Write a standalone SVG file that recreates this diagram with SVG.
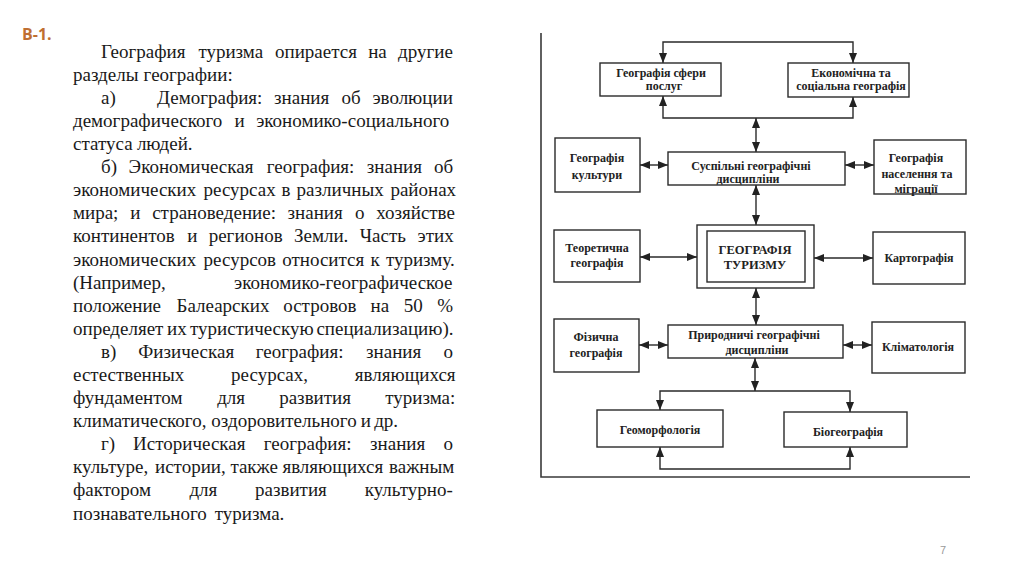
<svg xmlns="http://www.w3.org/2000/svg" width="1024" height="574" viewBox="0 0 1024 574">
<style>
.p{font-family:"Liberation Serif","Times New Roman",serif;font-size:19px;fill:#1a1a1a}
.h{font-family:"Open Sans","Liberation Sans",Arial,sans-serif;font-size:16px;font-weight:bold;fill:#BF6F32}
.n{font-family:"Liberation Sans",Arial,sans-serif;font-size:11px;fill:#9a9a9a}
.box{fill:#fff;stroke:#2a2a2a;stroke-width:1.4}
.t{font-family:"Liberation Serif","Times New Roman",serif;font-size:12px;font-weight:bold;fill:#222;text-anchor:middle}
.tb{font-family:"Liberation Serif","Times New Roman",serif;font-size:12.5px;font-weight:bold;fill:#222;text-anchor:middle}
.c{fill:none;stroke:#2a2a2a;stroke-width:1.4;marker-start:url(#ah);marker-end:url(#ah)}
.frame{fill:none;stroke:#3a3a3a;stroke-width:1.6}
</style>
<defs>
<marker id="ah" viewBox="0 0 10 8" refX="10" refY="4" markerWidth="10" markerHeight="8" markerUnits="userSpaceOnUse" orient="auto-start-reverse">
<path d="M0,0 L10,4 L0,8 z" fill="#222"/>
</marker>
</defs>
<rect width="1024" height="574" fill="#fff"/>

<text class="h" x="22" y="40">В-1.</text>

<g id="paragraph">
<text class="p" y="57.7"><tspan x="101">География</tspan><tspan x="198.4">туризма</tspan><tspan x="275">опирается</tspan><tspan x="368.2">на</tspan><tspan x="398">другие</tspan></text>
<text class="p" y="80.8"><tspan x="73">разделы</tspan><tspan x="143.6">географии:</tspan></text>
<text class="p" y="103.9"><tspan x="101">а)</tspan><tspan x="157">Демография:</tspan><tspan x="274.1">знания</tspan><tspan x="341.5">об</tspan><tspan x="372.4">эволюции</tspan></text>
<text class="p" y="127"><tspan x="73">демографического</tspan><tspan x="234.5">и</tspan><tspan x="256.2">экономико-социального</tspan></text>
<text class="p" y="150.1"><tspan x="73">статуса</tspan><tspan x="136.9">людей.</tspan></text>
<text class="p" y="173.2"><tspan x="101">б)</tspan><tspan x="128.6">Экономическая</tspan><tspan x="266.7">география:</tspan><tspan x="366.8">знания</tspan><tspan x="434">об</tspan></text>
<text class="p" y="196.2"><tspan x="73">экономических</tspan><tspan x="203.5">ресурсах</tspan><tspan x="281.4">в</tspan><tspan x="296.6">различных</tspan><tspan x="390.4">районах</tspan></text>
<text class="p" y="219.3"><tspan x="73">мира;</tspan><tspan x="130.2">и</tspan><tspan x="152.2">страноведение:</tspan><tspan x="287.6">знания</tspan><tspan x="354.9">о</tspan><tspan x="376.2">хозяйстве</tspan></text>
<text class="p" y="242.4"><tspan x="73">континентов</tspan><tspan x="187.2">и</tspan><tspan x="208.7">регионов</tspan><tspan x="294">Земли.</tspan><tspan x="359.7">Часть</tspan><tspan x="417.6">этих</tspan></text>
<text class="p" y="265.5"><tspan x="73">экономических</tspan><tspan x="203.6">ресурсов</tspan><tspan x="282.2">относится</tspan><tspan x="370.4">к</tspan><tspan x="385.9">туризму.</tspan></text>
<text class="p" y="288.6"><tspan x="73">(Например,</tspan><tspan x="234">экономико-географическое</tspan></text>
<text class="p" y="311.7"><tspan x="73">положение</tspan><tspan x="176.5">Балеарских</tspan><tspan x="283.2">островов</tspan><tspan x="370.5">на</tspan><tspan x="403.7">50</tspan><tspan x="437.2">%</tspan></text>
<text class="p" y="334.8"><tspan x="73">определяет</tspan><tspan x="167.1">их</tspan><tspan x="190">туристическую</tspan><tspan x="316.4">специализацию).</tspan></text>
<text class="p" y="357.9"><tspan x="101">в)</tspan><tspan x="138.3">Физическая</tspan><tspan x="255.8">география:</tspan><tspan x="366.1">знания</tspan><tspan x="443.5">о</tspan></text>
<text class="p" y="381"><tspan x="73">естественных</tspan><tspan x="231.1">ресурсах,</tspan><tspan x="354.8">являющихся</tspan></text>
<text class="p" y="404.1"><tspan x="73">фундаментом</tspan><tspan x="217.2">для</tspan><tspan x="279.2">развития</tspan><tspan x="385.2">туризма:</tspan></text>
<text class="p" y="427.1"><tspan x="73">климатического,</tspan><tspan x="211.3">оздоровительного</tspan><tspan x="360.7">и</tspan><tspan x="374.2">др.</tspan></text>
<text class="p" y="450.2"><tspan x="101">г)</tspan><tspan x="133.1">Историческая</tspan><tspan x="263.8">география:</tspan><tspan x="370.1">знания</tspan><tspan x="443.5">о</tspan></text>
<text class="p" y="473.3"><tspan x="73">культуре,</tspan><tspan x="155">истории,</tspan><tspan x="230.4">также</tspan><tspan x="282.4">являющихся</tspan><tspan x="389">важным</tspan></text>
<text class="p" y="496.4"><tspan x="73">фактором</tspan><tspan x="189.4">для</tspan><tspan x="255">развития</tspan><tspan x="364.7">культурно-</tspan></text>
<text class="p" y="519.5"><tspan x="73">познавательного</tspan><tspan x="214.8">туризма.</tspan></text>
</g>

<path class="frame" d="M541,33 V477 H970"/>

<g id="connectors">
<path class="c" d="M663,63 V42 H853 V63"/>
<path class="c" d="M663,96 V118 H853 V97"/>
<path class="c" d="M756,118 V152"/>
<path class="c" d="M640,165 H668"/>
<path class="c" d="M845,165 H874"/>
<path class="c" d="M756,185 V225"/>
<path class="c" d="M640,257 H697"/>
<path class="c" d="M814,258 H873"/>
<path class="c" d="M756,288 V325"/>
<path class="c" d="M639,345 H668"/>
<path class="c" d="M843,345 H872"/>
<path class="c" d="M755,358 V391"/>
<path class="c" d="M660,410 V391 H850 V412"/>
<path class="c" d="M660,447 V469 H850 V447"/>
</g>

<g id="n-servis"><rect class="box" x="600" y="63" width="121" height="33"/>
<text class="t" x="661" y="77">Географія сфери</text><text class="t" x="664" y="89.5">послуг</text></g>
<g id="n-econ"><rect class="box" x="788" y="63" width="121" height="34"/>
<text class="t" x="851" y="77">Економічна та</text><text class="t" x="851" y="90">соціальна географія</text></g>
<g id="n-kultury"><rect class="box" x="555" y="138" width="85" height="54"/>
<text class="t" x="597" y="162">Географія</text><text class="t" x="597" y="178.5">культури</text></g>
<g id="n-suspilni"><rect class="box" x="668" y="152" width="177" height="33"/>
<text class="t" x="751" y="170">Суспільні географічні</text><text class="t" x="748" y="183">дисципліни</text></g>
<g id="n-naselennya"><rect class="box" x="874" y="140" width="92" height="54"/>
<text class="t" x="916" y="161.5">Географія</text><text class="t" x="917" y="178">населення та</text><text class="t" x="916" y="193">міграції</text></g>
<g id="n-teor"><rect class="box" x="554" y="230" width="86" height="52"/>
<text class="t" x="597" y="251.5">Теоретична</text><text class="t" x="597" y="266.5">географія</text></g>
<g id="n-turyzmu"><rect class="box" x="697" y="225" width="117" height="63"/><rect class="box" x="707" y="231" width="98" height="51"/>
<text class="tb" x="755" y="254">ГЕОГРАФІЯ</text><text class="tb" x="755" y="269">ТУРИЗМУ</text></g>
<g id="n-karto"><rect class="box" x="873" y="232" width="92" height="52"/>
<text class="t" x="919" y="262">Картографія</text></g>
<g id="n-pryrodni"><rect class="box" x="668" y="325" width="175" height="33"/>
<text class="t" x="754" y="339">Природничі географічні</text><text class="t" x="757" y="353.5">дисципліни</text></g>
<g id="n-fizychna"><rect class="box" x="554" y="319" width="85" height="53"/>
<text class="t" x="596" y="341">Фізична</text><text class="t" x="596" y="356.5">географія</text></g>
<g id="n-klimat"><rect class="box" x="872" y="322" width="93" height="51"/>
<text class="t" x="918" y="351">Кліматологія</text></g>
<g id="n-geomorf"><rect class="box" x="597" y="410" width="126" height="37"/>
<text class="t" x="660" y="433.5">Геоморфологія</text></g>
<g id="n-biogeo"><rect class="box" x="784" y="412" width="123" height="35"/>
<text class="t" x="848" y="435.5">Біогеографія</text></g>

<text class="n" x="940" y="554">7</text>
</svg>
